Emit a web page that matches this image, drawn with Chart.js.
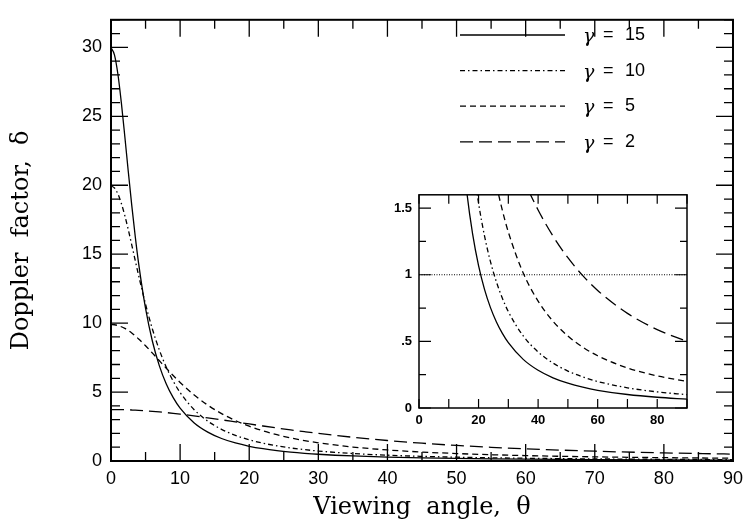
<!DOCTYPE html>
<html><head><meta charset="utf-8">
<script src="https://cdn.jsdelivr.net/npm/chart.js@4/dist/chart.umd.min.js"></script>
<style>
html,body{margin:0;padding:0;background:#fff;}
#wrap{position:relative;width:750px;height:525px;overflow:hidden;}
#main{position:absolute;left:0;top:0;}
#inset{position:absolute;left:370px;top:180px;}
</style></head>
<body><div id="wrap"><canvas id="main" width="750" height="525"></canvas><canvas id="inset" width="330" height="255"></canvas></div>
<script>
// ---- data ----
const theta = [0,0.5,1,1.5,2,2.5,3,3.5,4,5,6,7,8,9,10,12,14,16,18,20,22,24,26,28,30,35,40,45,50,55,60,70,80,90];
const gamma15 = [29.97,29.46,28.05,25.97,23.54,21.00,18.56,16.32,14.32,11.07,8.669,6.900,5.586,4.595,3.835,2.775,2.092,1.631,1.306,1.068,0.8903,0.7534,0.6460,0.5601,0.4905,0.3650,0.2829,0.2264,0.1859,0.1559,0.1330,0.1012,0.0806,0.0667];
const gamma10 = [19.95,19.80,19.37,18.68,17.80,16.78,15.68,14.56,13.45,11.37,9.557,8.045,6.805,5.793,4.968,3.738,2.893,2.296,1.862,1.538,1.291,1.0985,0.9460,0.8232,0.7230,0.5407,0.4205,0.3373,0.2774,0.2329,0.1990,0.1516,0.1209,0.1000];
const gamma5 = [9.899,9.881,9.827,9.737,9.615,9.462,9.282,9.078,8.853,8.357,7.821,7.271,6.725,6.198,5.700,4.806,4.056,3.439,2.934,2.522,2.185,1.906,1.676,1.483,1.320,1.0132,0.8018,0.6511,0.5402,0.4566,0.3921,0.3008,0.2410,0.2000];
const gamma2 = [3.732,3.731,3.728,3.724,3.717,3.709,3.699,3.688,3.674,3.642,3.604,3.560,3.511,3.457,3.398,3.270,3.131,2.985,2.835,2.685,2.538,2.394,2.256,2.125,2.000,1.721,1.486,1.290,1.1278,0.9935,0.8819,0.7104,0.5885,0.5000];
const gammas = [15, 10, 5, 2];
const unityTheta = [0, 90];
const unityValue = [1, 1];
const mainXTicks = [0,10,20,30,40,50,60,70,80,90];
const mainYTicks = [0,5,10,15,20,25,30];
const insetXTicks = [0,20,40,60,80];
const insetYLabels = {0:'0', 0.5:'.5', 1:'1', 1.5:'1.5'};
const xTitle = 'Viewing  angle,  \u03B8';
const yTitle = 'Doppler  factor,  \u03B4';

// ---- styles ----
const dashes = [[], [5,3,1.5,3], [6,4], [13,6]];
const series = [gamma15, gamma10, gamma5, gamma2];
const pts = arr => theta.map((t,i)=>({x:t, y:arr[i]}));

function makeDatasets(){
  return series.map((s,i)=>({
    label: '\u03B3 = ' + gammas[i],
    data: pts(s),
    borderColor:'#000', borderWidth:1.3, borderDash:dashes[i],
    pointRadius:0, fill:false, cubicInterpolationMode:'monotone'
  }));
}

const framePlugin = {
  id:'frame',
  afterDatasetsDraw(chart, args, o){
    const {ctx, chartArea:a, scales:{x,y}} = chart;
    ctx.save();
    ctx.strokeStyle = '#000';
    ctx.setLineDash([]);
    ctx.lineWidth = o.tickWidth;
    ctx.beginPath();
    const eps = 1e-6;
    const nx = Math.round((x.max - x.min)/o.xMinor);
    for (let k=0;k<=nx;k++){
      const v = x.min + k*o.xMinor;
      const major = Math.abs(v/o.xMajor - Math.round(v/o.xMajor))<eps;
      const len = major ? o.xMajorLen : o.xMinorLen;
      const px = x.getPixelForValue(v);
      ctx.moveTo(px, a.bottom); ctx.lineTo(px, a.bottom-len);
      ctx.moveTo(px, a.top); ctx.lineTo(px, a.top+len);
    }
    const ny = Math.floor((y.max - y.min)/o.yMinor + eps);
    for (let k=0;k<=ny;k++){
      const v = y.min + k*o.yMinor;
      const major = Math.abs(v/o.yMajor - Math.round(v/o.yMajor))<eps;
      const len = major ? o.yMajorLen : o.yMinorLen;
      const py = y.getPixelForValue(v);
      ctx.moveTo(a.left, py); ctx.lineTo(a.left+len, py);
      ctx.moveTo(a.right, py); ctx.lineTo(a.right-len, py);
    }
    ctx.stroke();
    ctx.lineWidth = o.frameWidth;
    ctx.strokeRect(a.left, a.top, a.right-a.left, a.bottom-a.top);
    ctx.restore();
  }
};

const legendPlugin = {
  id:'customLegend',
  afterDatasetsDraw(chart, args, o){
    if(!o.show) return;
    const ctx = chart.ctx;
    ctx.save();
    chart.data.datasets.forEach((ds,i)=>{
      const yy = o.y0 + i*o.dy;
      ctx.strokeStyle = '#000';
      ctx.lineWidth = 1.3;
      ctx.setLineDash(ds.borderDash || []);
      ctx.beginPath(); ctx.moveTo(o.x0, yy); ctx.lineTo(o.x1, yy); ctx.stroke();
      ctx.setLineDash([]);
      ctx.fillStyle = '#000';
      ctx.textBaseline = 'middle';
      ctx.textAlign = 'left';
      ctx.font = 'italic 19px "DejaVu Serif"';
      ctx.fillText('\u03B3', o.tx, yy+2);
      ctx.font = '18px "Liberation Sans"';
      ctx.fillText('=', o.tx+20, yy);
      ctx.fillText(String(gammas[i]), o.tx+42, yy);
    });
    ctx.restore();
  }
};

Chart.register(framePlugin, legendPlugin);

const tickFont = {family:'Liberation Sans', size:18};
const titleFont = {family:'DejaVu Serif', size:24};

new Chart(document.getElementById('main'), {
  type:'line',
  data:{datasets:makeDatasets()},
  options:{
    responsive:false, animation:false, devicePixelRatio:1,
    layout:{padding:{top:6,right:9,left:0,bottom:0}},
    plugins:{legend:{display:false}, tooltip:{enabled:false},
      frame:{tickWidth:1.3, frameWidth:2, xMinor:5, xMajor:10, yMinor:1, yMajor:5, xMajorLen:17, xMinorLen:9, yMajorLen:17, yMinorLen:9},
      customLegend:{show:true, x0:460, x1:565, y0:35, dy:35.6, tx:583}},
    scales:{
      x:{type:'linear', min:0, max:90, border:{display:false}, grid:{display:false, drawTicks:false},
        afterBuildTicks:s=>{s.ticks = mainXTicks.map(v=>({value:v}));},
        ticks:{color:'#000', font:tickFont, padding:7, maxRotation:0, autoSkip:false},
        title:{display:true, text:xTitle, color:'#000', font:titleFont, padding:{top:0,bottom:3}},
        afterFit:s=>{s.height=64;}},
      y:{type:'linear', min:0, max:32, border:{display:false}, grid:{display:false, drawTicks:false},
        afterBuildTicks:s=>{s.ticks = mainYTicks.map(v=>({value:v}));},
        ticks:{color:'#000', font:tickFont, padding:9, autoSkip:false},
        title:{display:true, text:yTitle, color:'#000', font:titleFont, padding:{top:7,bottom:0}},
        afterFit:s=>{s.width=111;}}
    }
  }
});

const insetSets = makeDatasets();
insetSets.push({label:'unity', data:unityTheta.map((t,i)=>({x:t,y:unityValue[i]})), borderColor:'#000', borderWidth:1, borderDash:[1,1.5], pointRadius:0, fill:false});

const insetFont = {family:'Liberation Sans', size:13, weight:'bold'};
new Chart(document.getElementById('inset'), {
  type:'line',
  data:{datasets:insetSets},
  options:{
    responsive:false, animation:false, devicePixelRatio:1,
    layout:{padding:{top:14,right:13,left:0,bottom:0}},
    plugins:{legend:{display:false}, tooltip:{enabled:false},
      frame:{tickWidth:1.2, frameWidth:1.5, xMinor:10, xMajor:20, yMinor:0.25, yMajor:0.5, xMajorLen:9, xMinorLen:9, yMajorLen:12, yMinorLen:7},
      customLegend:{show:false}},
    scales:{
      x:{type:'linear', min:0, max:90, border:{display:false}, grid:{display:false, drawTicks:false},
        afterBuildTicks:s=>{s.ticks = insetXTicks.map(v=>({value:v}));},
        ticks:{color:'#000', font:insetFont, padding:5, maxRotation:0, autoSkip:false},
        afterFit:s=>{s.height=27;}},
      y:{type:'linear', min:0, max:1.6, border:{display:false}, grid:{display:false, drawTicks:false},
        afterBuildTicks:s=>{s.ticks = Object.keys(insetYLabels).map(v=>({value:+v}));},
        ticks:{color:'#000', font:insetFont, padding:7, autoSkip:false, callback:v=>insetYLabels[v]},
        afterFit:s=>{s.width=49;}}
    }
  }
});
</script></body></html>
